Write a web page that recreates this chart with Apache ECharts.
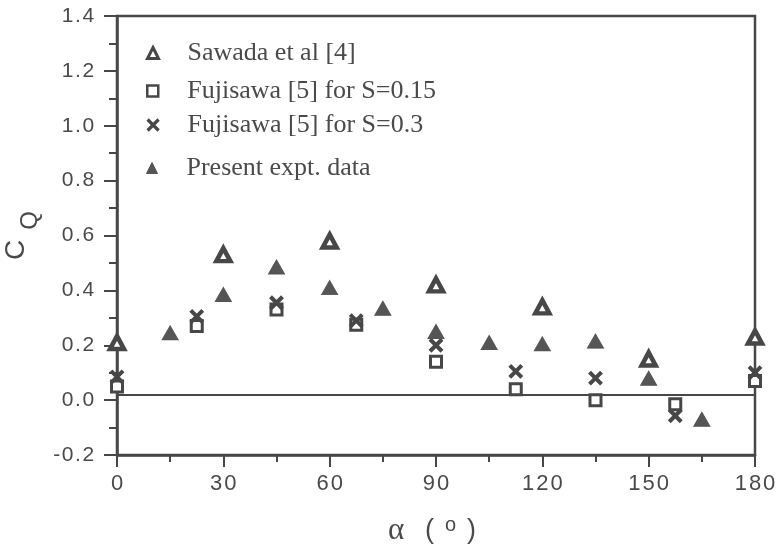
<!DOCTYPE html>
<html>
<head>
<meta charset="utf-8">
<style>
  html, body { margin: 0; padding: 0; background: #fff; }
  #chart { width: 783px; height: 546px; }
</style>
<script src="https://cdn.jsdelivr.net/npm/echarts@6/dist/echarts.min.js"></script>
</head>
<body>
<div id="chart"></div>
<script>
// Flow coefficient C_Q against angle alpha (degrees)
const sawadaAngle = [0, 30, 60, 90, 120, 150, 180];
const sawadaCq    = [0.21, 0.53, 0.58, 0.42, 0.34, 0.15, 0.23];

const fuji015Angle = [0, 22.5, 45, 67.5, 90, 112.5, 135, 157.5, 180];
const fuji015Cq    = [0.05, 0.27, 0.33, 0.275, 0.14, 0.04, 0.0, -0.015, 0.07];

const fuji03Angle = [0, 22.5, 45, 67.5, 90, 112.5, 135, 157.5, 180];
const fuji03Cq    = [0.085, 0.305, 0.355, 0.29, 0.2, 0.105, 0.08, -0.057, 0.10];

const presentAngle = [15, 30, 45, 60, 75, 90, 105, 120, 135, 150, 165];
const presentCq    = [0.245, 0.385, 0.485, 0.41, 0.335, 0.25, 0.21, 0.205, 0.215, 0.08, -0.07];

const seriesNames = [
  'Sawada et al [4]',
  'Fujisawa [5] for S=0.15',
  'Fujisawa [5] for S=0.3',
  'Present expt. data'
];

const xTicks = { min: 0, max: 180, step: 30 };
const yTicks = { min: -0.2, max: 1.4, step: 0.2 };
const referenceLevel = 0.02;

const ink = '#474747';
const textInk = '#4a4a4a';
const pairs = (xs, ys) => xs.map((x, i) => [x, ys[i]]);
const crossPath = 'path://M0,0L10,10M10,0L0,10';

// spread the characters of a tick label a little apart
const spaced = s => String(s).split('').map(ch => '{d|' + ch + '}').join('');

const chart = echarts.init(document.getElementById('chart'), null, { renderer: 'canvas' });

const legendTops = [35, 73, 107, 150];
const legendIconStyles = [
  { color: '#fff', borderColor: ink, borderWidth: 3 },
  { color: '#fff', borderColor: ink, borderWidth: 2.5 },
  { color: 'transparent', borderColor: ink, borderWidth: 3.2 },
  { color: '#555', borderColor: '#555', borderWidth: 1 }
];

const option = {
  animation: false,
  backgroundColor: '#fff',
  grid: {
    left: 117, right: 28, top: 16, bottom: 91,
    containLabel: false,
    outerBoundsMode: 'none',
    show: true, borderColor: ink, borderWidth: 2.5, backgroundColor: 'transparent'
  },
  legend: seriesNames.map((name, i) => ({
    left: 141,
    top: legendTops[i],
    orient: 'vertical',
    itemWidth: 11,
    itemHeight: 11,
    selectedMode: false,
    data: [{ name: name, itemStyle: legendIconStyles[i] }],
    textStyle: {
      fontFamily: 'Liberation Serif',
      fontSize: 26,
      color: textInk,
      padding: [0, 0, 0, 24]
    }
  })),
  xAxis: {
    type: 'value',
    min: xTicks.min, max: xTicks.max, interval: xTicks.step,
    name: '{a|α}  {p|(}{o|o}{p|)}',
    nameLocation: 'middle',
    nameGap: 60,
    nameTextStyle: {
      rich: {
        a: { fontFamily: 'Liberation Serif', fontSize: 31, color: textInk, padding: [0, 6, 0, 0] },
        p: { fontFamily: 'Liberation Sans', fontSize: 27, color: textInk, padding: [0, 8, 0, 8] },
        o: { fontFamily: 'Liberation Sans', fontSize: 20, color: textInk, verticalAlign: 'top', padding: [0, 3, 8, 3] }
      }
    },
    axisLine: { show: true, onZero: false, lineStyle: { color: ink, width: 2.5 } },
    axisTick: { show: true, length: 12, lineStyle: { color: ink, width: 2 } },
    minorTick: { show: true, splitNumber: 2, length: 7, lineStyle: { color: ink, width: 2 } },
    axisLabel: {
      margin: 18,
      formatter: v => spaced(v),
      rich: {
        d: { fontFamily: 'Liberation Sans', fontSize: 22, color: textInk, padding: [0, 1, 0, 1] }
      }
    },
    splitLine: { show: false },
    minorSplitLine: { show: false }
  },
  yAxis: {
    type: 'value',
    min: yTicks.min, max: yTicks.max, interval: yTicks.step,
    name: '{c|C}{q|Q}',
    nameLocation: 'middle',
    nameRotate: 90,
    nameGap: 72,
    nameTextStyle: {
      rich: {
        c: { fontFamily: 'Liberation Sans', fontSize: 28, color: textInk, verticalAlign: 'top', padding: [0, 10, 0, 0] },
        q: { fontFamily: 'Liberation Sans', fontSize: 24, color: textInk, verticalAlign: 'bottom', padding: [16, 0, 0, 0] }
      }
    },
    axisLine: { show: true, onZero: false, lineStyle: { color: ink, width: 2.5 } },
    axisTick: { show: true, length: 13, lineStyle: { color: ink, width: 2 } },
    minorTick: { show: true, splitNumber: 2, length: 8, lineStyle: { color: ink, width: 2 } },
    axisLabel: {
      margin: 22,
      formatter: v => spaced(v.toFixed(1)),
      rich: {
        d: { fontFamily: 'Liberation Sans', fontSize: 21, color: textInk, padding: [0, 0.8, 0, 0.8] }
      }
    },
    splitLine: { show: false },
    minorSplitLine: { show: false }
  },
  series: [
    {
      name: seriesNames[0],
      type: 'scatter',
      data: pairs(sawadaAngle, sawadaCq),
      symbol: 'triangle',
      symbolSize: [14, 13],
      itemStyle: { color: '#fff', borderColor: ink, borderWidth: 4.5, opacity: 1 },
      z: 4,
      markLine: {
        silent: true,
        symbol: 'none',
        label: { show: false },
        lineStyle: { color: ink, width: 2.2, type: 'solid' },
        data: [{ yAxis: referenceLevel }]
      }
    },
    {
      name: seriesNames[1],
      type: 'scatter',
      data: pairs(fuji015Angle, fuji015Cq),
      symbol: 'rect',
      symbolSize: 11,
      itemStyle: { color: '#fff', borderColor: ink, borderWidth: 3, opacity: 1 },
      z: 3
    },
    {
      name: seriesNames[2],
      type: 'scatter',
      data: pairs(fuji03Angle, fuji03Cq),
      symbol: crossPath,
      symbolSize: 12,
      itemStyle: { color: 'transparent', borderColor: ink, borderWidth: 4, opacity: 1 },
      z: 5
    },
    {
      name: seriesNames[3],
      type: 'scatter',
      data: pairs(presentAngle, presentCq),
      symbol: 'triangle',
      symbolSize: [16, 14],
      itemStyle: { color: '#555', borderColor: '#555', borderWidth: 1, opacity: 1 },
      z: 6
    }
  ]
};

chart.setOption(option);
</script>
</body>
</html>
